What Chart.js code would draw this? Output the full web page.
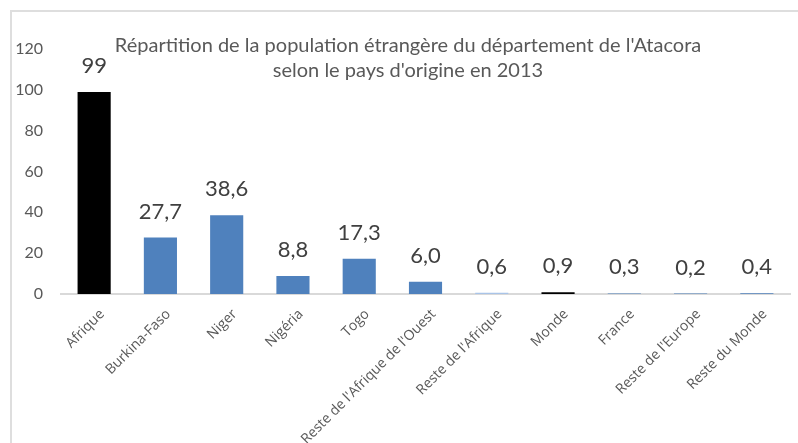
<!DOCTYPE html>
<html>
<head>
<meta charset="utf-8">
<script src="https://cdn.jsdelivr.net/npm/chart.js@4.4.0/dist/chart.umd.min.js"></script>
<style>
  body { margin: 0; background: #fff; overflow: hidden; }
  #frame { position: absolute; left: 10px; top: 10px; width: 820px; height: 480px; border: 2px solid #dedede; box-sizing: border-box; }
  #myChart1 { position: absolute; left: 0; top: 0; }
</style>
</head>
<body>
<div id="frame"></div>
<canvas id="myChart1" width="798" height="443"></canvas>
<script>
// pays d'origine
var categories = ['Afrique', 'Burkina-Faso', 'Niger', 'Nigéria', 'Togo', "Reste de l'Afrique de l'Ouest",
    "Reste de l'Afrique", 'Monde', 'France', "Reste de l'Europe", 'Reste du Monde'];
var values = [99, 27.7, 38.6, 8.8, 17.3, 6.0, 0.6, 0.9, 0.3, 0.2, 0.4];
var valueLabels = ['99', '27,7', '38,6', '8,8', '17,3', '6,0', '0,6', '0,9', '0,3', '0,2', '0,4'];
var yTicks = [0, 20, 40, 60, 80, 100, 120];
var titleLines = ["Répartition de la population étrangère du département de l'Atacora",
    "selon le pays d'origine en 2013"];

var barColors = ['#000000', '#4f81bd', '#4f81bd', '#4f81bd', '#4f81bd', '#4f81bd',
    '#a9c4e8', '#000000', '#4f81bd', '#4f81bd', '#4f81bd'];

// labels above bars + title drawn over the plot like in excel
var overlay = {
    id: 'overlay',
    afterDatasetsDraw: function (chart) {
        var c = chart.ctx;
        var meta = chart.getDatasetMeta(0);
        c.save();
        c.fillStyle = '#404040';
        c.font = '22px Lato';
        c.textAlign = 'center';
        c.textBaseline = 'middle';
        meta.data.forEach(function (bar, i) {
            c.fillText(valueLabels[i], bar.x, bar.y - 26);
        });
        c.fillStyle = '#595959';
        c.font = '20px Lato';
        c.fillText(titleLines[0], 408, 46);
        c.fillText(titleLines[1], 408, 71);
        c.restore();
    }
};

var ctx = document.getElementById('myChart1').getContext('2d');

var myChart = new Chart(ctx, {
    type: 'bar',
    data: {
        labels: categories,
        datasets: [{
            data: values,
            backgroundColor: barColors,
            barPercentage: 0.5,
            categoryPercentage: 1
        }]
    },
    options: {
        responsive: false,
        animation: false,
        layout: { padding: { left: 0, top: 49, right: 8, bottom: 0 } },
        plugins: {
            legend: { display: false },
            tooltip: { enabled: false },
            title: { display: false }
        },
        scales: {
            y: {
                min: 0,
                max: 120,
                afterBuildTicks: function (axis) {
                    axis.ticks = yTicks.map(function (v) { return { value: v }; });
                },
                afterFit: function (axis) { axis.width = 61; },
                grid: { display: false, drawTicks: false },
                border: { display: false },
                ticks: { color: '#595959', font: { family: 'Lato', size: 16 }, padding: 18 }
            },
            x: {
                z: 1,
                afterFit: function (axis) { axis.height = 149; },
                grid: { display: false, drawTicks: false },
                border: { display: true, color: '#d9d9d9', width: 2 },
                ticks: {
                    color: '#595959',
                    font: { family: 'Open Sans', size: 14 },
                    minRotation: 45,
                    maxRotation: 45,
                    autoSkip: false,
                    padding: 12,
                    labelOffset: 8
                }
            }
        }
    },
    plugins: [overlay]
});
</script>
</body>
</html>
